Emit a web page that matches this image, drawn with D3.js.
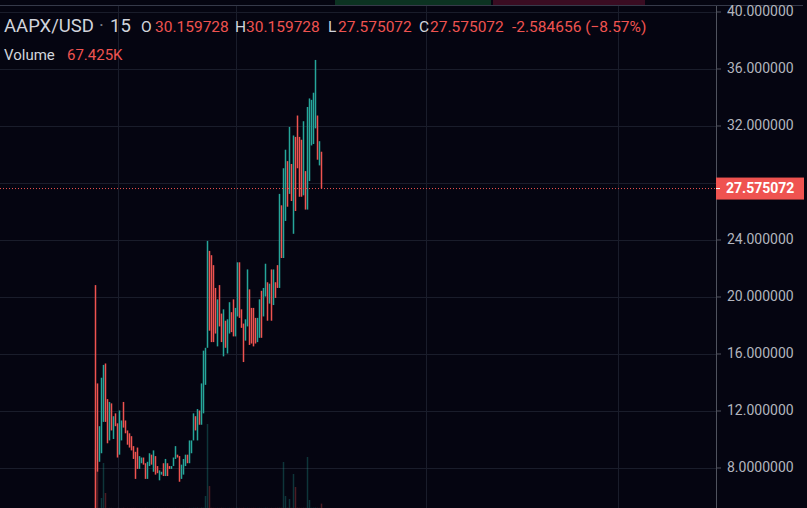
<!DOCTYPE html>
<html>
<head>
<meta charset="utf-8">
<script src="https://cdn.jsdelivr.net/npm/d3@7"></script>
<style>
  html, body { margin: 0; padding: 0; background: #050511; overflow: hidden; }
  svg { display: block; font-family: Roboto, "Noto Sans", sans-serif; }
</style>
</head>
<body>
<svg class="chart"></svg>
<script>
// 15 minute candles, AAPX/USD (index 0 = first visible candle)
var highs = [20.8, 13.9, 10.9, 14.3, 15.2, 15.3, 12.8, 12.6, 12.5, 11.6,
             11.8, 11.1, 12.0, 11.3, 12.6, 11.3, 10.6, 10.4, 10.2, 9.5,
             9.1, 9.4, 8.8, 8.7, 8.7, 8.3, 8.4, 9.0, 8.9, 9.2,
             8.8, 8.1, 7.8, 7.7, 8.3, 8.6, 8.3, 8.1, 8.1, 8.7,
             9.5, 8.9, 8.8, 8.2, 8.6, 8.9, 8.9, 9.9, 9.9, 11.8,
             11.6, 12.1, 12.0, 13.9, 16.2, 16.4, 23.9, 23.2, 22.9, 22.2,
             20.6, 19.8, 20.8, 18.8, 19.1, 18.3, 18.4, 19.6, 18.9, 19.8,
             19.2, 22.4, 22.4, 19.1, 18.1, 18.4, 21.9, 20.5, 19.2, 19.2,
             18.5, 18.5, 19.8, 20.4, 20.6, 22.3, 21.0, 20.9, 21.9, 21.9,
             21.0, 22.2, 27.2, 26.4, 29.0, 30.3, 29.5, 31.9, 29.3, 31.3,
             31.2, 32.7, 31.2, 31.0, 32.3, 28.8, 33.3, 33.9, 33.8, 34.3,
             36.6, 32.7, 30.9, 30.159728];
var lows = [4.5, 7.7, 8.4, 9.0, 11.2, 11.2, 9.7, 9.9, 10.6, 10.0,
            10.9, 8.7, 8.9, 9.9, 10.8, 10.4, 9.6, 9.4, 9.2, 8.6,
            7.2, 7.9, 7.9, 8.3, 8.2, 7.2, 7.2, 8.1, 8.2, 7.7,
            7.5, 7.6, 7.1, 7.5, 7.4, 7.4, 7.4, 7.9, 7.9, 8.1,
            8.6, 8.7, 7.0, 7.2, 7.5, 8.1, 8.3, 8.3, 9.0, 9.9,
            10.6, 9.9, 11.0, 11.0, 11.8, 13.8, 16.4, 17.6, 16.8, 16.8,
            17.4, 16.5, 17.9, 16.8, 15.8, 16.4, 16.0, 17.4, 17.5, 17.2,
            17.2, 18.6, 18.5, 17.8, 15.4, 16.9, 17.9, 16.6, 16.7, 16.5,
            16.7, 16.8, 17.1, 17.1, 18.6, 20.0, 18.3, 19.5, 18.3, 19.4,
            19.9, 20.6, 20.6, 22.7, 22.7, 25.3, 26.3, 27.2, 26.7, 24.4,
            26.0, 29.0, 27.0, 27.0, 27.1, 26.1, 26.1, 28.1, 30.6, 30.7,
            31.8, 29.6, 29.2, 27.575072];
// 1 = closed up (green), 0 = closed down (red)
var rising = [0, 0, 1, 1, 1, 0, 0, 1, 0, 1,
              0, 0, 1, 1, 0, 0, 0, 0, 0, 0,
              0, 0, 1, 1, 0, 0, 1, 1, 0, 1,
              0, 0, 1, 1, 0, 1, 0, 0, 1, 1,
              1, 0, 0, 1, 1, 1, 0, 1, 1, 1,
              0, 1, 0, 1, 1, 1, 1, 0, 0, 0,
              0, 1, 0, 0, 1, 0, 1, 1, 0, 0,
              1, 1, 0, 0, 0, 1, 1, 0, 0, 0,
              0, 1, 1, 0, 1, 1, 0, 1, 0, 1,
              0, 0, 1, 0, 1, 1, 0, 1, 0, 1,
              0, 0, 0, 0, 1, 0, 1, 1, 1, 1,
              1, 0, 1, 0];
// volume in thousands
var volumes = [900, 554, 3, 154, 692, 231, 2, 4, 3, 2,
               1, 3, 2, 2, 4, 1, 2, 1, 2, 3,
               2, 1, 1, 2, 1, 3, 2, 1, 1, 2,
               1, 2, 1, 1, 2, 1, 2, 1, 1, 2,
               3, 1, 2, 1, 2, 1, 1, 3, 2, 4,
               3, 5, 2, 6, 5, 185, 1292, 338, 4, 3,
               2, 3, 2, 4, 3, 2, 2, 3, 2, 3,
               2, 4, 3, 2, 4, 2, 3, 2, 2, 3,
               2, 2, 3, 2, 2, 4, 3, 2, 3, 2,
               3, 4, 5, 4, 708, 185, 5, 138, 4, 523,
               323, 5, 4, 3, 5, 4, 785, 123, 4, 5,
               6, 4, 3, 67.425];

var priceTicks = [8, 12, 16, 20, 24, 28, 32, 36, 40];
var tickLabels = ["8.0000000", "12.000000", "16.000000", "20.000000", "24.000000",
                  "28.000000", "32.000000", "36.000000", "40.000000"];
var dayStarts = [11, 70, 165, 261];

var symbol = "AAPX/USD", interval = "15";
var lastO = "30.159728", lastH = "30.159728", lastL = "27.575072", lastC = "27.575072";
var change = "-2.584656 (\u22128.57%)", lastVolume = "67.425K";
var lastPrice = 27.575072;

var W = 807, H = 508, plotW = 716;
var up = "#26a69a", down = "#ef5350";

var svg = d3.select(".chart").attr("width", W).attr("height", H);

var x = d3.scaleBand().domain(d3.range(-48, 310)).range([-1.5, plotW - 1.5]);
var y = d3.scaleLinear().domain([8, 40]).range([467.5, 11.5]);
var vy = d3.scaleLinear().domain([0, 2000]).range([H, 378]);
function cx(i) { return x(i) + x.bandwidth() / 2; }

var idx = d3.range(highs.length);

// top strip
svg.append("rect").attr("x", 335).attr("y", 0).attr("width", 156).attr("height", 5).attr("fill", "#0c3322");
svg.append("rect").attr("x", 493).attr("y", 0).attr("width", 152).attr("height", 5).attr("fill", "#3a0c22");
svg.append("line").attr("x1", 0).attr("x2", 803).attr("y1", 5.5).attr("y2", 5.5)
    .attr("stroke", "#363a4a");

// grid
svg.append("g").selectAll("line").data(priceTicks).enter().append("line")
    .attr("x1", 0).attr("x2", plotW)
    .attr("y1", function (d) { return Math.round(y(d)) + 0.5; })
    .attr("y2", function (d) { return Math.round(y(d)) + 0.5; })
    .attr("stroke", "#1a1d2b");
svg.append("g").selectAll("line").data(dayStarts).enter().append("line")
    .attr("x1", function (d) { return Math.round(cx(d)) + 0.5; })
    .attr("x2", function (d) { return Math.round(cx(d)) + 0.5; })
    .attr("y1", 6).attr("y2", H)
    .attr("stroke", "#1a1d2b");

// volume
svg.append("g").selectAll("rect").data(idx).enter().append("rect")
    .attr("x", function (i) { return cx(i) - 0.75; })
    .attr("width", 1.5)
    .attr("y", function (i) { return vy(volumes[i]); })
    .attr("height", function (i) { return H - vy(volumes[i]); })
    .attr("fill", function (i) { return rising[i] ? up : down; })
    .attr("fill-opacity", 0.3);

// candles
svg.append("g").selectAll("rect").data(idx).enter().append("rect")
    .attr("x", function (i) { return cx(i) - 0.75; })
    .attr("width", 1.5)
    .attr("y", function (i) { return y(highs[i]); })
    .attr("height", function (i) { return Math.max(1, y(lows[i]) - y(highs[i])); })
    .attr("fill", function (i) { return rising[i] ? up : down; });

// last price line
svg.append("line")
    .attr("x1", 0).attr("x2", plotW)
    .attr("y1", y(lastPrice)).attr("y2", y(lastPrice))
    .attr("stroke", down).attr("stroke-dasharray", "1,2");

// price axis (labels hidden where the last price label sits)
svg.append("line").attr("x1", plotW + 0.5).attr("x2", plotW + 0.5).attr("y1", 6).attr("y2", H)
    .attr("stroke", "#50535e");
var axis = svg.append("g")
    .attr("transform", "translate(" + (plotW + 1) + ",0)")
    .call(d3.axisRight(y).tickValues(priceTicks).tickSize(4).tickPadding(6)
        .tickFormat(function (d, i) {
            return Math.abs(y(d) - y(lastPrice)) < 16 ? "" : tickLabels[i];
        }));
axis.select(".domain").remove();
axis.selectAll("line").attr("stroke", "#50535e");
axis.selectAll("text").attr("fill", "#b2b5be").attr("font-size", 14)
    .attr("font-family", "Roboto, 'Noto Sans', sans-serif");

// last price label
svg.append("rect").attr("x", plotW).attr("y", y(lastPrice) - 11).attr("width", 88).attr("height", 22)
    .attr("fill", down);
svg.append("line").attr("x1", plotW).attr("x2", plotW + 4)
    .attr("y1", y(lastPrice)).attr("y2", y(lastPrice)).attr("stroke", "#fff");
svg.append("text").attr("x", 726).attr("y", y(lastPrice)).attr("dy", "0.35em")
    .attr("fill", "#fff").attr("font-size", 14).attr("font-weight", "bold")
    .text(lastC);

// legend
var grey = "#d1d4dc";
function label(xp, yp, size, color, txt) {
    svg.append("text").attr("x", xp).attr("y", yp).attr("font-size", size)
        .attr("fill", color).text(txt);
}
label(4, 32, 18.5, grey, symbol);
label(99, 32, 18.5, "#787b86", "\u00b7");
label(110, 32, 18.5, grey, interval);
label(141, 32, 15.5, grey, "O");
label(155, 32, 15.5, down, lastO);
label(235, 32, 15.5, grey, "H");
label(246, 32, 15.5, down, lastH);
label(328, 32, 15.5, grey, "L");
label(338, 32, 15.5, down, lastL);
label(419, 32, 15.5, grey, "C");
label(430, 32, 15.5, down, lastC);
label(512, 32, 15.5, down, change);
label(4, 60, 15, grey, "Volume");
label(67, 60, 15, down, lastVolume);
</script>
</body>
</html>
